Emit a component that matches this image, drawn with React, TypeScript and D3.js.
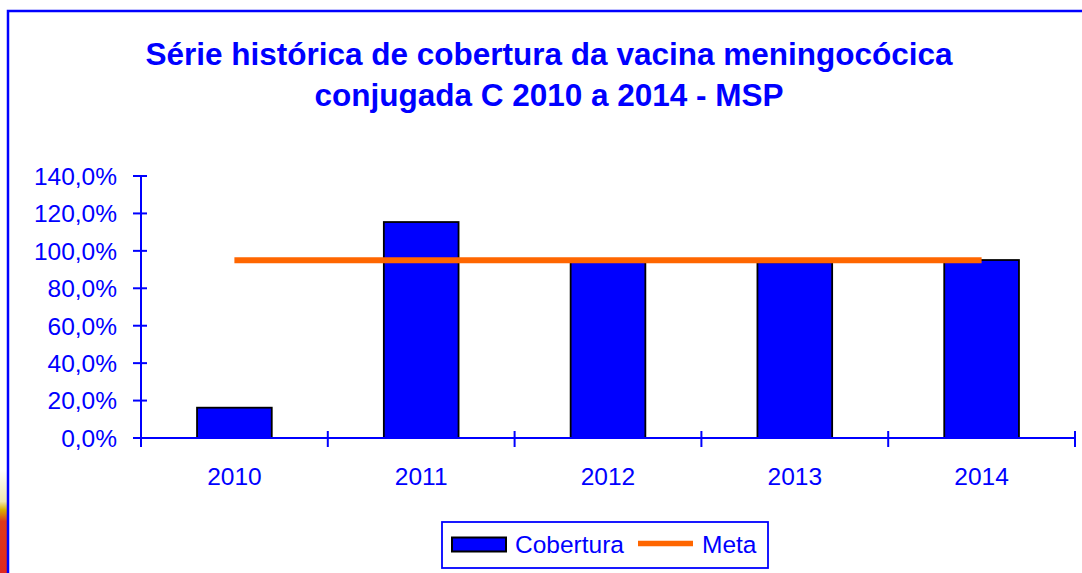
import React from "react";
import * as d3 from "d3";

const categories = ["2010", "2011", "2012", "2013", "2014"];
const cobertura = [16.2, 115.4, 94.2, 93.9, 95.1];
const meta = [95, 95, 95, 95, 95];
const yTicks = [0, 20, 40, 60, 80, 100, 120, 140];
const titleLines = [
  "Série histórica de cobertura da vacina meningocócica",
  "conjugada C 2010 a 2014 - MSP",
];
const legendLabels = ["Cobertura", "Meta"];

const W = 1082;
const H = 573;
const BLUE = "#0000FF";
const ORANGE = "#FF6600";
const FONT = "'Liberation Sans', Arial, sans-serif";

export default function App() {
  const x = d3
    .scaleBand<string>()
    .domain(categories)
    .range([141, 1075])
    .paddingInner(0.6)
    .paddingOuter(0.3);
  const y = d3.scaleLinear().domain([0, 140]).range([438, 176]);
  const step = x.step();
  const x0 = 141;
  const boundaries = d3.range(categories.length + 1).map((i) => x0 + i * step);

  const metaLine = d3
    .line<number>()
    .x((_, i) => (x(categories[i]) as number) + x.bandwidth() / 2)
    .y((d) => y(d));

  const fmt = (v: number) => v.toFixed(1).replace(".", ",") + "%";

  return (
    <div style={{ position: "absolute", left: 0, top: 0 }}>
      <svg width={W} height={H} style={{ display: "block" }} fontFamily={FONT}>
        <defs>
          <linearGradient id="strip" x1="0" y1="0" x2="0" y2="1">
            <stop offset="0" stopColor="#ffffff" />
            <stop offset="0.82" stopColor="#ffffff" />
            <stop offset="0.875" stopColor="#f0e8b0" />
            <stop offset="0.89" stopColor="#d8b000" />
            <stop offset="0.91" stopColor="#dd3a1a" />
            <stop offset="1" stopColor="#e0281e" />
          </linearGradient>
        </defs>
        <rect x={0} y={0} width={W} height={H} fill="#ffffff" />
        <rect x={0} y={0} width={8} height={H} fill="url(#strip)" />
        {/* outer border */}
        <rect x={8} y={11} width={W + 10} height={H + 10} fill="#ffffff" stroke={BLUE} strokeWidth={2.5} />

        {/* title */}
        {titleLines.map((t, i) => (
          <text
            key={i}
            x={549}
            y={64.5 + i * 41.5}
            textAnchor="middle"
            fontSize={31.5}
            fontWeight="bold"
            fill={BLUE}
          >
            {t}
          </text>
        ))}

        {/* bars */}
        {cobertura.map((v, i) => (
          <rect
            key={categories[i]}
            x={x(categories[i])}
            y={y(v)}
            width={x.bandwidth()}
            height={y(0) - y(v)}
            fill={BLUE}
            stroke="#000000"
            strokeWidth={1.8}
          />
        ))}

        {/* y axis */}
        <line x1={x0} x2={x0} y1={y(140)} y2={y(0) + 9} stroke={BLUE} strokeWidth={2} />
        {yTicks.map((t) => (
          <g key={t}>
            <line x1={133} x2={147} y1={y(t)} y2={y(t)} stroke={BLUE} strokeWidth={2} />
            <text x={117} y={y(t)} dy="0.36em" textAnchor="end" fontSize={24.5} fill={BLUE}>
              {fmt(t)}
            </text>
          </g>
        ))}

        {/* x axis */}
        <line x1={x0} x2={1075} y1={y(0)} y2={y(0)} stroke={BLUE} strokeWidth={2} />
        {boundaries.map((bx, i) => (
          <line key={i} x1={bx} x2={bx} y1={y(0) - 7} y2={y(0) + 9} stroke={BLUE} strokeWidth={2} />
        ))}
        {categories.map((c) => (
          <text
            key={c}
            x={(x(c) as number) + x.bandwidth() / 2}
            y={485}
            textAnchor="middle"
            fontSize={24.5}
            fill={BLUE}
          >
            {c}
          </text>
        ))}

        {/* meta line */}
        <path d={metaLine(meta) || ""} fill="none" stroke={ORANGE} strokeWidth={6} />

        {/* legend */}
        <rect x={442} y={522} width={326} height={46} fill="#ffffff" stroke={BLUE} strokeWidth={1.8} />
        <rect x={452} y={537.5} width={54} height={14} fill={BLUE} stroke="#000000" strokeWidth={2} />
        <text x={515} y={553} fontSize={24.5} fill={BLUE}>
          {legendLabels[0]}
        </text>
        <line x1={638} x2={693} y1={543.5} y2={543.5} stroke={ORANGE} strokeWidth={5.5} />
        <text x={702} y={553} fontSize={24.5} fill={BLUE}>
          {legendLabels[1]}
        </text>
      </svg>
    </div>
  );
}
